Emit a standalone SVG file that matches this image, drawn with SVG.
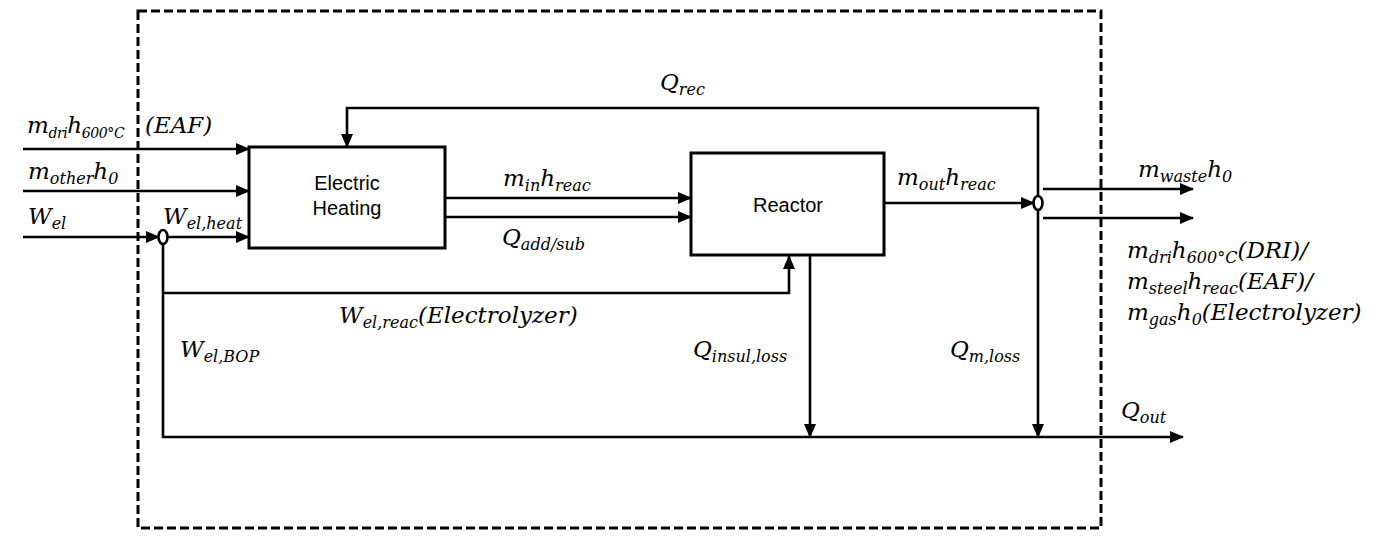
<svg xmlns="http://www.w3.org/2000/svg" width="1381" height="538" viewBox="0 0 1381 538">
<style>
.ln{fill:none;stroke:#000;stroke-width:2.6}
.arr{marker-end:url(#ah)}
.box{fill:#fff;stroke:#000;stroke-width:3}
.bnd{fill:none;stroke:#000;stroke-width:3;stroke-dasharray:9 4}
.m{font-family:"DejaVu Serif","Liberation Serif",serif;font-style:italic;font-size:23px;fill:#000}
.s{font-size:16px}
.s2{font-size:14px}
.lab{font-family:"Liberation Sans",Arial,sans-serif;font-size:20px;fill:#000;text-anchor:middle}
.jn{fill:#fff;stroke:#000;stroke-width:2.6}
</style>
<defs>
<marker id="ah" markerUnits="userSpaceOnUse" markerWidth="14" markerHeight="12" refX="13" refY="6" orient="auto">
<path d="M0,0 L14,6 L0,12 Z" fill="#000"/>
</marker>
</defs>
<rect class="bnd" x="138" y="11" width="963" height="517"/>
<g id="connectors">
<path class="ln arr" d="M23,149 H249"/>
<path class="ln arr" d="M23,191 H249"/>
<path class="ln arr" d="M23,237 H159"/>
<path class="ln arr" d="M168,237 H249"/>
<path class="ln arr" d="M163,244 V437 H1183"/>
<path class="ln arr" d="M163,293 H789 V256"/>
<path class="ln arr" d="M445,198 H691"/>
<path class="ln arr" d="M445,217 H691"/>
<path class="ln arr" d="M884,203 H1034"/>
<path class="ln arr" d="M1043,189 H1193"/>
<path class="ln arr" d="M1043,218 H1193"/>
<path class="ln arr" d="M1038,196 V108 H347 V147"/>
<path class="ln arr" d="M1038,210 V437"/>
<path class="ln arr" d="M810,255 V437"/>
</g>
<g id="junction-left"><ellipse class="jn" cx="163" cy="237" rx="4.5" ry="7"/></g>
<g id="junction-right"><ellipse class="jn" cx="1038" cy="203" rx="4.5" ry="7"/></g>
<g id="electric-heating">
<rect class="box" x="249" y="147" width="196" height="101"/>
<text class="lab" x="347" y="190">Electric</text>
<text class="lab" x="347" y="215">Heating</text>
</g>
<g id="reactor">
<rect class="box" x="691" y="153" width="193" height="102"/>
<text class="lab" x="788" y="212">Reactor</text>
</g>
<g id="labels">
<text class="m" x="27" y="133" letter-spacing="-0.4">m<tspan class="s2" dy="5">dri</tspan><tspan dy="-5">h</tspan><tspan class="s2" dy="5">600°C</tspan></text>
<text class="m" x="145" y="133">(EAF)</text>
<text class="m" x="28" y="179">m<tspan class="s" dy="5">other</tspan><tspan dy="-5">h</tspan><tspan class="s" dy="5">0</tspan></text>
<text class="m" x="28" y="224">W<tspan class="s" dy="5">el</tspan></text>
<text class="m" x="163" y="224">W<tspan class="s" dy="5">el,heat</tspan></text>
<text class="m" x="503" y="186">m<tspan class="s" dy="5">in</tspan><tspan dy="-5">h</tspan><tspan class="s" dy="5">reac</tspan></text>
<text class="m" x="502" y="245">Q<tspan class="s" dy="5">add/sub</tspan></text>
<text class="m" x="660" y="90">Q<tspan class="s" dy="5">rec</tspan></text>
<text class="m" x="897" y="185">m<tspan class="s" dy="5">out</tspan><tspan dy="-5">h</tspan><tspan class="s" dy="5">reac</tspan></text>
<text class="m" x="1138" y="177">m<tspan class="s" dy="5">waste</tspan><tspan dy="-5">h</tspan><tspan class="s" dy="5">0</tspan></text>
<text class="m" x="1127" y="258">m<tspan class="s" dy="5">dri</tspan><tspan dy="-5">h</tspan><tspan class="s" dy="5">600°C</tspan><tspan dy="-5">(DRI)/</tspan></text>
<text class="m" x="1127" y="289">m<tspan class="s" dy="5">steel</tspan><tspan dy="-5">h</tspan><tspan class="s" dy="5">reac</tspan><tspan dy="-5">(EAF)/</tspan></text>
<text class="m" x="1127" y="320">m<tspan class="s" dy="5">gas</tspan><tspan dy="-5">h</tspan><tspan class="s" dy="5">0</tspan><tspan dy="-5">(Electrolyzer)</tspan></text>
<text class="m" x="339" y="323">W<tspan class="s" dy="5">el,reac</tspan><tspan dy="-5">(Electrolyzer)</tspan></text>
<text class="m" x="180" y="357">W<tspan class="s" dy="5">el,BOP</tspan></text>
<text class="m" x="693" y="357">Q<tspan class="s" dy="5">insul,loss</tspan></text>
<text class="m" x="950" y="357">Q<tspan class="s" dy="5">m,loss</tspan></text>
<text class="m" x="1121" y="418">Q<tspan class="s" dy="5">out</tspan></text>
</g>
</svg>
